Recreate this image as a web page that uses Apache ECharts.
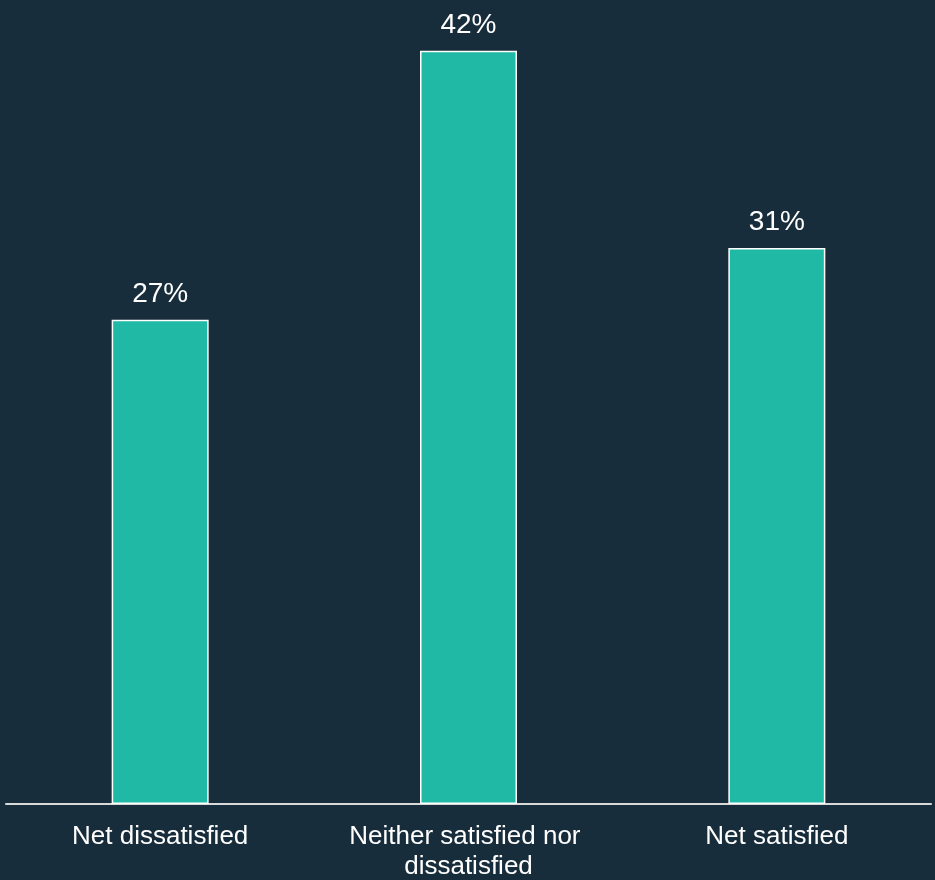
<!DOCTYPE html>
<html>
<head>
<meta charset="utf-8">
<script src="https://cdn.jsdelivr.net/npm/echarts@6/dist/echarts.min.js"></script>
<style>
  html, body { margin: 0; padding: 0; background: #182d3b; }
  #chart { width: 935px; height: 880px; }
</style>
</head>
<body>
<div id="chart"></div>
<script>
// Satisfaction breakdown (share of respondents, %)
const categories = ['Net dissatisfied', 'Neither satisfied nor dissatisfied', 'Net satisfied'];
const shares = [27, 42, 31];

const chart = echarts.init(document.getElementById('chart'));
chart.setOption({
  backgroundColor: '#182d3b',
  animation: false,
  grid: { left: 6, right: 4, top: 15, bottom: 76, containLabel: false, outerBoundsMode: 'none' },
  xAxis: {
    type: 'category',
    data: categories,
    axisLine: { show: true, lineStyle: { color: '#d9d9d9', width: 2 } },
    axisTick: { show: false },
    axisLabel: {
      color: '#ffffff',
      fontFamily: 'Liberation Sans, Arial, sans-serif',
      fontSize: 26,
      lineHeight: 30,
      margin: 18,
      width: 300,
      overflow: 'break',
      interval: 0
    }
  },
  yAxis: {
    type: 'value',
    min: 0,
    max: 44,
    show: false,
    splitLine: { show: false }
  },
  series: [{
    type: 'bar',
    data: shares,
    barWidth: 97,
    itemStyle: { color: '#20b9a5', borderColor: '#ffffff', borderWidth: 1.5 },
    label: {
      show: true,
      position: 'top',
      distance: 12,
      color: '#ffffff',
      fontFamily: 'Liberation Sans, Arial, sans-serif',
      fontSize: 28,
      formatter: p => p.value + '%'
    }
  }]
});
</script>
</body>
</html>
